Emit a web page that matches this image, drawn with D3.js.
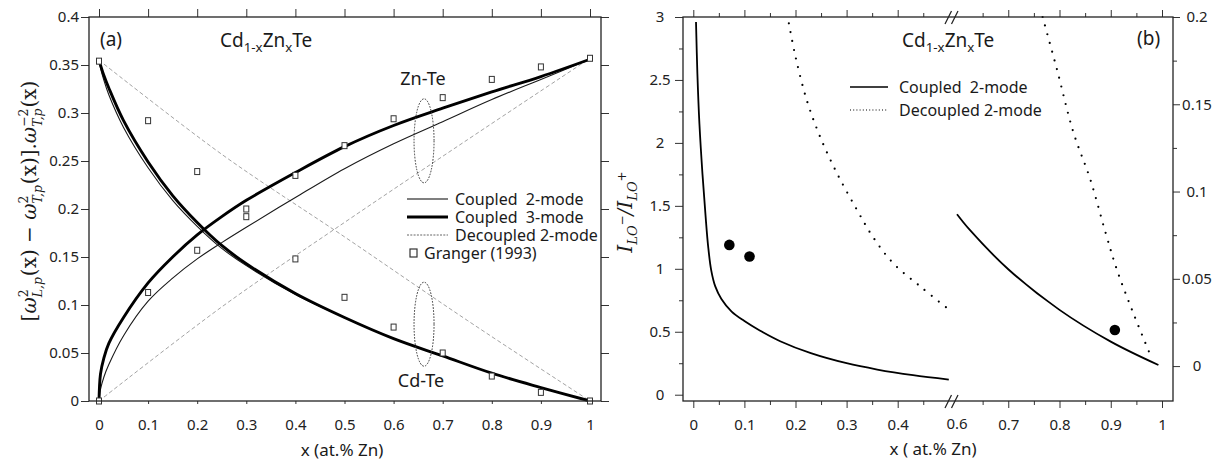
<!DOCTYPE html>
<html>
<head>
<meta charset="utf-8">
<script src="https://cdn.jsdelivr.net/npm/d3@7/dist/d3.min.js"></script>
<style>
  body { margin: 0; background: #fff; }
  svg { display: block; font-family: "Noto Sans", sans-serif; }
</style>
</head>
<body>
<svg id="chart" width="1227" height="466"></svg>
<script>
// ---- panel (a): reduced oscillator strengths, Cd1-xZnxTe ----
const aX    = [0, 0.003, 0.01, 0.02, 0.05, 0.1, 0.15, 0.2, 0.25, 0.3, 0.4, 0.5, 0.6, 0.7, 0.8, 0.9, 1];
const cdTe3 = [0.355, 0.350, 0.339, 0.326, 0.292, 0.249, 0.214, 0.186, 0.162, 0.143, 0.112, 0.087, 0.065, 0.047, 0.029, 0.014, 0];
const cdTe2 = [0.355, 0.347, 0.334, 0.319, 0.285, 0.243, 0.209, 0.182, 0.159, 0.141, 0.111, 0.087, 0.065, 0.047, 0.029, 0.014, 0];
const znTe3 = [0, 0.028, 0.045, 0.060, 0.087, 0.123, 0.150, 0.173, 0.192, 0.209, 0.238, 0.265, 0.287, 0.305, 0.322, 0.338, 0.356];
const znTe2 = [0, 0.012, 0.025, 0.038, 0.068, 0.104, 0.128, 0.148, 0.165, 0.181, 0.212, 0.242, 0.268, 0.291, 0.314, 0.335, 0.356];

const decX     = [0, 0.25, 0.5, 0.75, 1];
const cdTeDec  = [0.355, 0.257, 0.171, 0.084, 0];
const znTeDec  = [0, 0.098, 0.186, 0.272, 0.357];

const grangerX  = [0, 0.1, 0.2, 0.3, 0.4, 0.5, 0.6, 0.7, 0.8, 0.9, 1];
const grangerCd = [0.354, 0.292, 0.239, 0.192, 0.148, 0.108, 0.077, 0.050, 0.026, 0.009, 0];
const grangerZn = [0, 0.113, 0.157, 0.200, 0.235, 0.266, 0.294, 0.316, 0.335, 0.348, 0.357];

// ellipse marks around the two branches: [x, y]
const ellipseZn = [0.662, 0.271];
const ellipseCd = [0.662, 0.080];

// ---- panel (b): I(LO-)/I(LO+) ratio, broken x axis ----
const cplLoX = [0.0053, 0.008, 0.012, 0.018, 0.024, 0.029, 0.035, 0.043, 0.055, 0.075, 0.1, 0.13, 0.17, 0.23, 0.3, 0.36, 0.43, 0.5];
const cplLo  = [2.96, 2.55, 2.15, 1.75, 1.42, 1.18, 0.99, 0.86, 0.76, 0.66, 0.585, 0.51, 0.425, 0.33, 0.25, 0.2, 0.155, 0.12];
const decLoX = [0.187, 0.2, 0.222, 0.248, 0.281, 0.32, 0.352, 0.391, 0.444, 0.498];
const decLo  = [2.95, 2.685, 2.34, 2.05, 1.76, 1.47, 1.25, 1.045, 0.86, 0.683];
const cplHiX = [0.6, 0.625, 0.7, 0.8, 0.9, 0.993];
const cplHi  = [0.087, 0.078, 0.0555, 0.0322, 0.014, 0.0006];
const decHiX = [0.767, 0.795, 0.827, 0.86, 0.89, 0.912, 0.944, 0.98];
const decHi  = [0.2, 0.17, 0.134, 0.107, 0.0763, 0.0552, 0.0303, 0.0044];
const exptLoX = [0.0705, 0.11];
const exptLo  = [1.19, 1.098];
const exptHiX = [0.908];
const exptHi  = [0.0207];

const legendA = ['Coupled  2-mode', 'Coupled  3-mode', 'Decoupled 2-mode', 'Granger (1993)'];
const legendB = ['Coupled  2-mode', 'Decoupled 2-mode'];

// ---------------------------------------------------------------
const svg = d3.select('#chart');
const ink = '#1a1a1a';
const fmt = d3.format('~g');
const zip = (xs, ys) => xs.map((x, i) => [x, ys[i]]);

// frames
const A = {l: 89, r: 601, t: 17, b: 401};
const B = {l: 683, r: 1173, t: 17, b: 401};

const xA = d3.scaleLinear().domain([0, 1]).range([99, 590]);
const yA = d3.scaleLinear().domain([0, 0.4]).range([A.b, A.t]);

const xB1 = d3.scaleLinear().domain([0, 0.5]).range([693.3, 948.8]);
const xB2 = d3.scaleLinear().domain([0.6, 1]).range([957, 1162]);
const yB  = d3.scaleLinear().domain([-0.05, 3]).range([B.b, B.t]);
const yB2 = d3.scaleLinear().domain([-0.02, 0.2]).range([B.b, B.t]);

function styleAxis(g, size) {
  g.select('.domain').remove();
  g.style('font-family', '"Noto Sans", sans-serif');
  g.selectAll('.tick line').attr('stroke', '#333');
  g.selectAll('.tick text').style('font-size', (size || 15) + 'px').attr('fill', '#222');
  return g;
}

function frame(F) {
  svg.append('rect')
    .attr('x', F.l).attr('y', F.t)
    .attr('width', F.r - F.l).attr('height', F.b - F.t)
    .attr('fill', 'none').attr('stroke', '#222').attr('stroke-width', 1.3);
}

// ================= panel (a) =================
const gA = svg.append('g');
const ticksXA = d3.range(11).map(i => i / 10);
const ticksYA = d3.range(9).map(i => i * 0.05);

styleAxis(gA.append('g').attr('transform', `translate(${A.l},0)`)
  .call(d3.axisLeft(yA).tickValues(ticksYA).tickSize(8).tickPadding(2).tickFormat(fmt)));
styleAxis(gA.append('g').attr('transform', `translate(${A.r},0)`)
  .call(d3.axisRight(yA).tickValues(ticksYA).tickSize(8).tickFormat('')));
styleAxis(gA.append('g').attr('transform', `translate(0,${A.b})`)
  .call(d3.axisBottom(xA).tickValues(ticksXA).tickSize(3).tickPadding(15).tickFormat(fmt)));
styleAxis(gA.append('g').attr('transform', `translate(0,${A.t})`)
  .call(d3.axisTop(xA).tickValues(ticksXA).tickSize(8).tickFormat('')));
frame(A);

const lineA = d3.line().x(d => xA(d[0])).y(d => yA(d[1])).curve(d3.curveCatmullRom.alpha(0.5));

// decoupled (grey dashed)
[zip(decX, cdTeDec), zip(decX, znTeDec)].forEach(d => {
  gA.append('path').attr('d', lineA(d)).attr('fill', 'none')
    .attr('stroke', '#999').attr('stroke-width', 0.9).attr('stroke-dasharray', '4,2.5');
});
// coupled 2-mode thin
[zip(aX, cdTe2), zip(aX, znTe2)].forEach(d => {
  gA.append('path').attr('d', lineA(d)).attr('fill', 'none')
    .attr('stroke', ink).attr('stroke-width', 1.1);
});
// coupled 3-mode thick
[zip(aX, cdTe3), zip(aX, znTe3)].forEach(d => {
  gA.append('path').attr('d', lineA(d)).attr('fill', 'none')
    .attr('stroke', '#000').attr('stroke-width', 2.9);
});

// Granger squares
const sq = {w: 5, h: 6};
gA.selectAll('.granger')
  .data(zip(grangerX, grangerCd).concat(zip(grangerX, grangerZn)))
  .enter().append('rect')
  .classed('granger', true)
  .attr('x', d => xA(d[0]) - sq.w / 2)
  .attr('y', d => yA(d[1]) - sq.h / 2)
  .attr('width', sq.w).attr('height', sq.h)
  .attr('fill', '#fff').attr('stroke', '#333').attr('stroke-width', 1);

// ellipses + branch labels
[ellipseZn, ellipseCd].forEach(e => {
  gA.append('ellipse')
    .attr('cx', xA(e[0])).attr('cy', yA(e[1]))
    .attr('rx', 10).attr('ry', 42)
    .attr('fill', 'none').attr('stroke', '#333').attr('stroke-width', 1)
    .attr('stroke-dasharray', '1.6,1.4');
});
gA.append('text').attr('x', 423).attr('y', 85).attr('text-anchor', 'middle')
  .style('font-size', '18px').attr('fill', ink).text('Zn-Te');
gA.append('text').attr('x', 421).attr('y', 387).attr('text-anchor', 'middle')
  .style('font-size', '18px').attr('fill', ink).text('Cd-Te');

// legend (a)
const legA = gA.append('g');
const rowsA = [199, 217, 235, 253];
legendA.forEach((lab, i) => {
  const y = rowsA[i];
  if (i < 3) {
    legA.append('line').attr('x1', 407).attr('x2', 448).attr('y1', y).attr('y2', y)
      .attr('stroke', i === 2 ? '#555' : '#000')
      .attr('stroke-width', [1.1, 2.9, 0.9][i])
      .attr('stroke-dasharray', i === 2 ? '2,1.3' : null);
  } else {
    legA.append('rect').attr('x', 410).attr('y', y - 4).attr('width', 7).attr('height', 8)
      .attr('fill', '#fff').attr('stroke', '#333').attr('stroke-width', 1.2);
  }
  legA.append('text').attr('x', i < 3 ? 455 : 424).attr('y', y).attr('dy', '0.35em')
    .style('font-size', '16px').style('white-space', 'pre').attr('fill', ink).text(lab);
});

function formula(g, x, y, size) {
  const t = g.append('text').attr('x', x).attr('y', y)
    .style('font-size', size + 'px').attr('fill', ink);
  const s = size * 0.7 + 'px', sh = size * 0.28;
  t.append('tspan').text('Cd');
  t.append('tspan').attr('dy', sh).style('font-size', s).text('1-x');
  t.append('tspan').attr('dy', -sh).text('Zn');
  t.append('tspan').attr('dy', sh).style('font-size', s).text('x');
  t.append('tspan').attr('dy', -sh).text('Te');
}

gA.append('text').attr('x', 100).attr('y', 46).style('font-size', '19px')
  .attr('fill', ink).text('(a)');
formula(gA, 220, 47, 19);

gA.append('text').attr('x', 342).attr('y', 456).attr('text-anchor', 'middle')
  .style('font-size', '17px').attr('fill', ink).text('x (at.% Zn)');

// rotated math label: pieces laid out one after another
function mathLabel(g, parts, base) {
  const inner = g.append('g')
    .style('font-family', '"DejaVu Serif", serif').attr('fill', ink);
  let x = 0;
  parts.forEach(p => {
    if (p.sup !== undefined) {
      const small = base * 0.62;
      const a = inner.append('text').attr('x', x).attr('y', -base * 0.42)
        .style('font-size', small + 'px').text(p.sup);
      const b = inner.append('text').attr('x', x).attr('y', base * 0.3)
        .style('font-size', small + 'px').style('font-style', 'italic').text(p.sub);
      x += Math.max(a.node().getComputedTextLength(), b.node().getComputedTextLength()) + 1;
    } else {
      const t = inner.append('text').attr('x', x).attr('y', p.dy || 0)
        .style('font-size', (p.size || base) + 'px')
        .style('font-style', p.it ? 'italic' : 'normal')
        .style('white-space', 'pre').text(p.t);
      x += t.node().getComputedTextLength();
    }
  });
  inner.attr('transform', `translate(${-x / 2},0)`);
  return x;
}

const labA = svg.append('g').attr('transform', 'translate(36,201) rotate(-90)');
mathLabel(labA, [
  {t: '['}, {t: 'ω', it: 1}, {sup: '2', sub: 'L,p'}, {t: '(x) − '},
  {t: 'ω', it: 1}, {sup: '2', sub: 'T,p'}, {t: '(x)].'},
  {t: 'ω', it: 1}, {sup: '−2', sub: 'T,p'}, {t: '(x)'}
], 20);

// ================= panel (b) =================
const gB = svg.append('g');
const majLo = d3.range(5).map(i => i / 10);          // 0 .. 0.4
const minLo = d3.range(5).map(i => i / 10 + 0.05);   // 0.05 .. 0.45
const majHi = [0.7, 0.8, 0.9, 1];
const minHi = [0.65, 0.75, 0.85, 0.95];
const majY  = d3.range(7).map(i => i * 0.5);
const minY  = d3.range(6).map(i => i * 0.5 + 0.25);
const majY2 = d3.range(5).map(i => i * 0.05);
const minY2 = d3.range(4).map(i => i * 0.05 + 0.025);

// left axis, labels centred under each other
const axL = styleAxis(gB.append('g').attr('transform', `translate(${B.l},0)`)
  .call(d3.axisLeft(yB).tickValues(majY).tickSize(8).tickFormat(fmt)));
axL.selectAll('.tick text').attr('text-anchor', 'middle').attr('x', -23);
styleAxis(gB.append('g').attr('transform', `translate(${B.l},0)`)
  .call(d3.axisLeft(yB).tickValues(minY).tickSize(4).tickFormat('')));

// right axis
const axR = styleAxis(gB.append('g').attr('transform', `translate(${B.r},0)`)
  .call(d3.axisRight(yB2).tickValues(majY2).tickSize(7).tickFormat(fmt)));
axR.selectAll('.tick text').attr('text-anchor', 'middle').attr('x', 24);
styleAxis(gB.append('g').attr('transform', `translate(${B.r},0)`)
  .call(d3.axisRight(yB2).tickValues(minY2).tickSize(4).tickFormat('')));

// bottom + top, two segments
[[xB1, majLo, minLo], [xB2, majHi, minHi]].forEach(([sc, maj, mn]) => {
  styleAxis(gB.append('g').attr('transform', `translate(0,${B.b})`)
    .call(d3.axisBottom(sc).tickValues(maj).tickSize(7).tickPadding(11).tickFormat(fmt)));
  styleAxis(gB.append('g').attr('transform', `translate(0,${B.b})`)
    .call(d3.axisBottom(sc).tickValues(mn).tickSize(4).tickFormat('')));
  styleAxis(gB.append('g').attr('transform', `translate(0,${B.t})`)
    .call(d3.axisTop(sc).tickValues(maj).tickSize(7).tickFormat('')));
  styleAxis(gB.append('g').attr('transform', `translate(0,${B.t})`)
    .call(d3.axisTop(sc).tickValues(mn).tickSize(4).tickFormat('')));
});
// 0.6 label sits in the break, no tick
gB.append('text').attr('x', xB2(0.6)).attr('y', B.b + 28).attr('text-anchor', 'middle')
  .style('font-size', '15px').attr('fill', '#222').text(fmt(0.6));
frame(B);

// axis break marks
[B.t, B.b].forEach(y => {
  gB.append('rect').attr('x', 947).attr('y', y - 2).attr('width', 9).attr('height', 4).attr('fill', '#fff');
  [945, 951.5].forEach(x0 => {
    gB.append('line').attr('x1', x0).attr('y1', y + 7).attr('x2', x0 + 6.5).attr('y2', y - 6)
      .attr('stroke', '#222').attr('stroke-width', 1.2);
  });
});

const lineLo = d3.line().x(d => xB1(d[0])).y(d => yB(d[1])).curve(d3.curveCatmullRom.alpha(0.5));
const lineHi = d3.line().x(d => xB2(d[0])).y(d => yB2(d[1])).curve(d3.curveCatmullRom.alpha(0.5));

const solid = p => p.attr('fill', 'none').attr('stroke', '#000').attr('stroke-width', 1.8);
const dotted = p => p.attr('fill', 'none').attr('stroke', '#000').attr('stroke-width', 2.2)
  .attr('stroke-linecap', 'round').attr('stroke-dasharray', '0,9');

gB.append('path').attr('d', lineLo(zip(cplLoX, cplLo))).call(solid);
gB.append('path').attr('d', lineLo(zip(decLoX, decLo))).call(dotted);
gB.append('path').attr('d', lineHi(zip(cplHiX, cplHi))).call(solid);
gB.append('path').attr('d', lineHi(zip(decHiX, decHi))).call(dotted);

gB.selectAll('.expLo').data(zip(exptLoX, exptLo)).enter().append('circle')
  .attr('cx', d => xB1(d[0])).attr('cy', d => yB(d[1])).attr('r', 5.3).attr('fill', '#000');
gB.selectAll('.expHi').data(zip(exptHiX, exptHi)).enter().append('circle')
  .attr('cx', d => xB2(d[0])).attr('cy', d => yB2(d[1])).attr('r', 5.3).attr('fill', '#000');

// legend (b)
[87, 110].forEach((y, i) => {
  gB.append('line').attr('x1', 850).attr('x2', 888).attr('y1', y).attr('y2', y)
    .attr('stroke', '#000').attr('stroke-width', i ? 1.1 : 1.3)
    .attr('stroke-dasharray', i ? '1,2.2' : null);
  gB.append('text').attr('x', 899).attr('y', y).attr('dy', '0.35em')
    .style('font-size', '16px').style('white-space', 'pre').attr('fill', ink).text(legendB[i]);
});

formula(gB, 902, 47, 19);
gB.append('text').attr('x', 1137).attr('y', 45).style('font-size', '19px')
  .attr('fill', ink).text('(b)');
gB.append('text').attr('x', 933).attr('y', 455).attr('text-anchor', 'middle')
  .style('font-size', '17px').style('white-space', 'pre').attr('fill', ink).text('x ( at.% Zn)');

const labB = svg.append('g').attr('transform', 'translate(632,212) rotate(-90)');
mathLabel(labB, [
  {t: 'I', it: 1}, {t: 'LO', it: 1, size: 13, dy: 5}, {t: '−', size: 12, dy: -6},
  {t: '/', it: 1},
  {t: 'I', it: 1}, {t: 'LO', it: 1, size: 13, dy: 5}, {t: '+', size: 12, dy: -6}
], 20);
</script>
</body>
</html>
